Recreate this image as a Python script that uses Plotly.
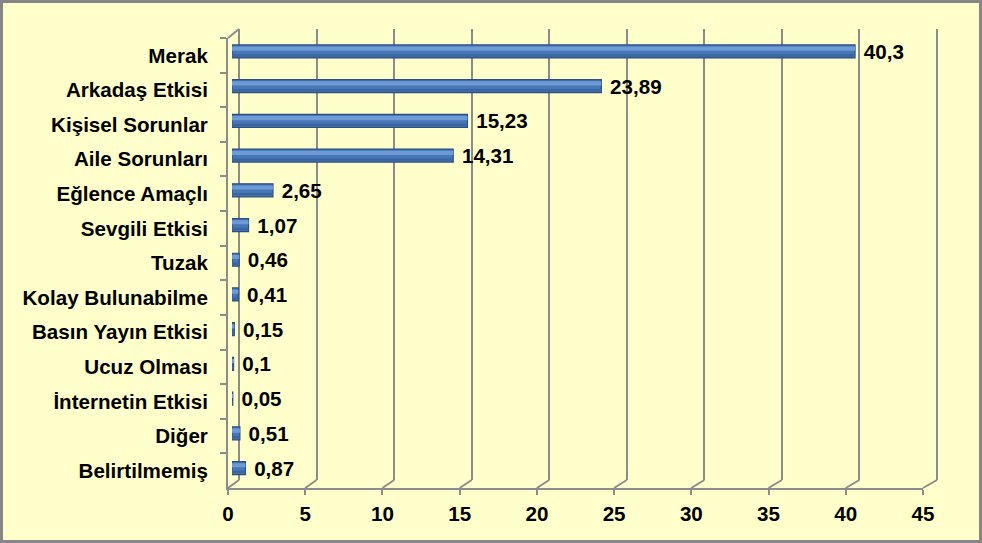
import plotly.graph_objects as go

categories = ["Merak", "Arkadaş Etkisi", "Kişisel Sorunlar", "Aile Sorunları", "Eğlence Amaçlı",
              "Sevgili Etkisi", "Tuzak", "Kolay Bulunabilme", "Basın Yayın Etkisi", "Ucuz Olması",
              "İnternetin Etkisi", "Diğer", "Belirtilmemiş"]
values = [40.3, 23.89, 15.23, 14.31, 2.65, 1.07, 0.46, 0.41, 0.15, 0.1, 0.05, 0.51, 0.87]
x_ticks = [0, 5, 10, 15, 20, 25, 30, 35, 40, 45]
labels = [" " + str(v).replace(".", ",") for v in values]

W, H = 982, 543
XMAX = 45
N = len(categories)
cat_range = [N - 0.5, -0.5]

def fx(px):
    return px / W

def fy(py):
    return 1 - py / H

# geometry (pixels)
front_x0, front_x1 = 228, 923
back_x0, back_x1 = 239, 937
front_top, front_bot = 38, 488
back_top, back_bot = 29, 480
bar_x0 = 232
bar_x1 = 232 + XMAX * 15.46
bar_top, bar_bot = 34.1, 485.4

# back axis padded slightly so that the edge gridlines are drawn
PAD = 0.3
bscale = (back_x1 - back_x0) / XMAX

font_b = dict(family="Liberation Sans, Arial, sans-serif", size=20.6, color="black", weight="bold")
grid_col = "#8C8C8C"

fig = go.Figure()

# back wall (gridlines) subplot xy
fig.add_trace(go.Scatter(x=values, y=categories, mode="markers", marker=dict(opacity=0),
                         hoverinfo="skip", showlegend=False, xaxis="x", yaxis="y"))
# front axes subplot x2y2
fig.add_trace(go.Scatter(x=values, y=categories, mode="markers", marker=dict(opacity=0),
                         hoverinfo="skip", showlegend=False, xaxis="x2", yaxis="y2"))
# bars subplot x3y3 (cylinder look from layered bands)
fig.add_trace(go.Bar(x=values, y=categories, orientation="h", width=0.375,
                     marker=dict(color="#4677B8", line=dict(color="#2B4F7E", width=1.2)),
                     text=labels, textposition="outside", textfont=font_b,
                     constraintext="none", cliponaxis=False,
                     showlegend=False, xaxis="x3", yaxis="y3"))
fig.add_trace(go.Bar(x=values, y=categories, orientation="h", width=0.12, offset=-0.14,
                     marker=dict(color="#6E9BD6", line=dict(width=0)),
                     hoverinfo="skip", showlegend=False, xaxis="x3", yaxis="y3"))
fig.add_trace(go.Bar(x=values, y=categories, orientation="h", width=0.07, offset=0.08,
                     marker=dict(color="#3A659E", line=dict(width=0)),
                     hoverinfo="skip", showlegend=False, xaxis="x3", yaxis="y3"))

shapes = []
# slanted floor ticks
for v in x_ticks:
    xf = front_x0 + v / XMAX * (front_x1 - front_x0)
    xb = back_x0 + v / XMAX * (back_x1 - back_x0)
    shapes.append(dict(type="line", xref="paper", yref="paper",
                       x0=fx(xf), y0=fy(front_bot), x1=fx(xb), y1=fy(back_bot),
                       line=dict(color=grid_col, width=2)))
# top-left slant
shapes.append(dict(type="line", xref="paper", yref="paper",
                   x0=fx(front_x0), y0=fy(front_top), x1=fx(back_x0), y1=fy(back_top),
                   line=dict(color=grid_col, width=2)))
# outer border
shapes.append(dict(type="rect", xref="paper", yref="paper",
                   x0=fx(1.5), y0=fy(H - 1.5), x1=fx(W - 1.5), y1=fy(1.5),
                   line=dict(color="#868686", width=3)))

fig.update_layout(
    width=W, height=H,
    margin=dict(l=0, r=0, t=0, b=0),
    paper_bgcolor="#FFFFCC",
    plot_bgcolor="rgba(0,0,0,0)",
    barmode="overlay",
    showlegend=False,
    shapes=shapes,
    xaxis=dict(domain=[fx(back_x0 - PAD * bscale), fx(back_x1 + PAD * bscale)],
               range=[-PAD, XMAX + PAD], tickvals=x_ticks,
               showgrid=True, gridcolor=grid_col, gridwidth=2, zeroline=False,
               showticklabels=False, ticks="", showline=False, anchor="y", fixedrange=True),
    yaxis=dict(domain=[fy(back_bot), fy(back_top)], visible=False, anchor="x",
               range=cat_range, type="category", fixedrange=True),
    xaxis2=dict(domain=[fx(front_x0), fx(front_x1)], range=[0, XMAX], tickvals=x_ticks,
                showgrid=False, zeroline=False, showline=True, linecolor=grid_col, linewidth=2,
                ticks="outside", ticklen=5, tickcolor=grid_col, tickwidth=2,
                tickfont=font_b, ticklabelstandoff=1, anchor="y2", automargin=False, fixedrange=True),
    yaxis2=dict(domain=[fy(front_bot), fy(front_top)], type="category", range=cat_range,
                showgrid=False, zeroline=False, showline=True, linecolor=grid_col, linewidth=2,
                ticks="outside", ticklen=6, tickcolor=grid_col, tickwidth=2, tickson="boundaries",
                tickfont=font_b, ticklabelstandoff=14, anchor="x2", automargin=False, fixedrange=True),
    xaxis3=dict(domain=[fx(bar_x0), fx(bar_x1)], range=[0, XMAX], visible=False,
                anchor="y3", fixedrange=True),
    yaxis3=dict(domain=[fy(bar_bot), fy(bar_top)], type="category", range=cat_range,
                visible=False, anchor="x3", fixedrange=True),
)

fig.write_html("out.html")
